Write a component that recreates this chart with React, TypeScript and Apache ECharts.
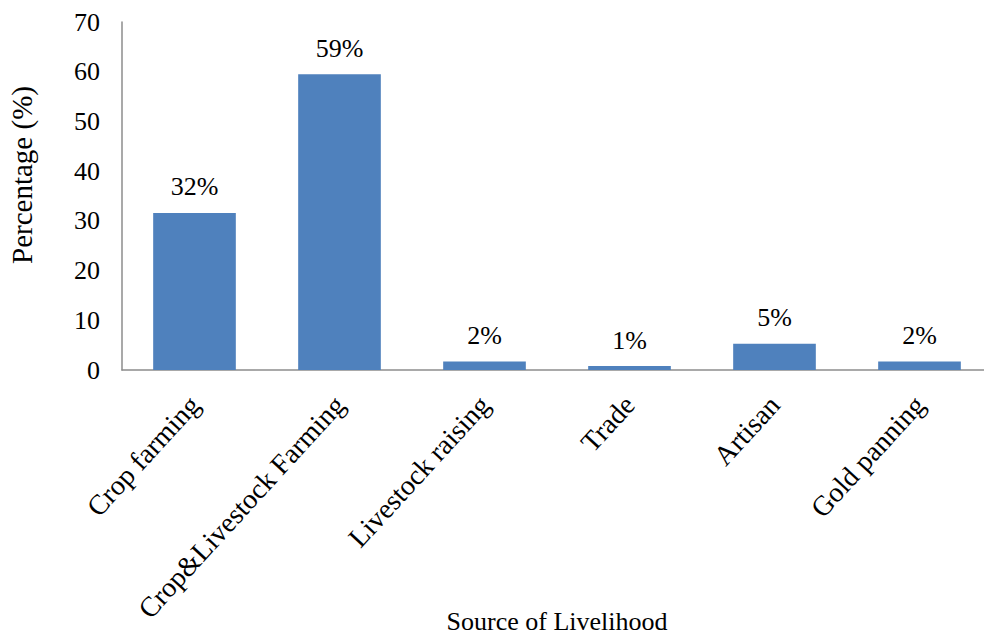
import React, { useEffect, useRef } from "react";
import * as echarts from "echarts";

const categories = [
  "Crop farming",
  "Crop&Livestock Farming",
  "Livestock raising",
  "Trade",
  "Artisan",
  "Gold panning",
];
const values = [31.6, 59.5, 1.7, 0.8, 5.3, 1.7];
const valueLabels = ["32%", "59%", "2%", "1%", "5%", "2%"];
const yTicks = { min: 0, max: 70, interval: 10 };

const FONT = "Liberation Serif";

export default function App() {
  const ref = useRef<HTMLDivElement>(null);
  useEffect(() => {
    if (!ref.current) return;
    const chart = echarts.init(ref.current, null, { renderer: "svg" });
    chart.setOption({
      animation: false,
      backgroundColor: "#ffffff",
      textStyle: { fontFamily: FONT, color: "#000" },
      grid: {
        left: 122,
        right: -8,
        top: 22,
        bottom: 267,
        containLabel: false,
        outerBoundsMode: "none",
      },
      xAxis: {
        type: "category",
        data: categories,
        axisLine: { show: true, lineStyle: { color: "#8c8c8c", width: 1.5 } },
        axisTick: { show: false },
        axisLabel: {
          rotate: 47.5,
          margin: 30,
          interval: 0,
          fontFamily: FONT,
          fontSize: 28,
          color: "#000",
        },
        name: "Source of Livelihood",
        nameLocation: "middle",
        nameGap: 238,
        nameMoveOverlap: false,
        nameTextStyle: { fontFamily: FONT, fontSize: 26, color: "#000" },
      },
      yAxis: {
        type: "value",
        min: yTicks.min,
        max: yTicks.max,
        interval: yTicks.interval,
        splitLine: { show: false },
        axisLine: { show: true, lineStyle: { color: "#8c8c8c", width: 1.5 } },
        axisTick: { show: false },
        axisLabel: { margin: 22, fontFamily: FONT, fontSize: 26, color: "#000" },
        name: "Percentage (%)",
        nameLocation: "middle",
        nameGap: 86,
        nameMoveOverlap: false,
        nameTextStyle: {
          fontFamily: FONT,
          fontSize: 29,
          color: "#000",
          padding: [0, 0, 0, 42],
        },
      },
      series: [
        {
          type: "bar",
          data: values,
          barWidth: "57%",
          itemStyle: { color: "#4f81bd" },
          label: {
            show: true,
            position: "top",
            distance: 13,
            fontFamily: FONT,
            fontSize: 26,
            color: "#000",
            formatter: (p: any) => valueLabels[p.dataIndex],
          },
        },
      ],
    });
    return () => chart.dispose();
  }, []);
  return (
    <div
      ref={ref}
      style={{ position: "fixed", left: 0, top: 0, width: 984, height: 637 }}
    />
  );
}
